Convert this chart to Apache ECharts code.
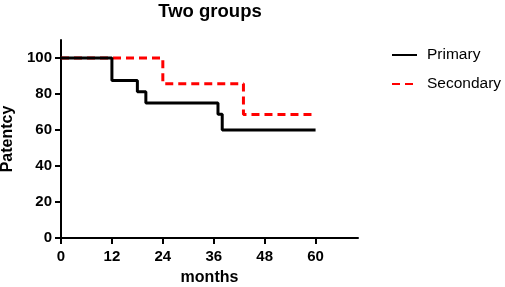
<!DOCTYPE html>
<html>
<head>
<meta charset="utf-8">
<script src="https://cdn.jsdelivr.net/npm/echarts@6/dist/echarts.min.js"></script>
<style>
  html, body { margin: 0; padding: 0; background: #fff; }
  #chart { width: 505px; height: 287px; }
</style>
</head>
<body>
<div id="chart"></div>
<script>
// Kaplan-Meier steps: [month, patency]
const primarySteps = [[0, 100], [12, 87.5], [18, 81.25], [20, 75], [37, 68.75], [38, 60], [60, 60]];
const secondarySteps = [[0, 100], [24, 85.7], [43, 68.6], [60, 68.6]];
const seriesNames = ["Primary", "Secondary"];
const xTicks = [0, 12, 24, 36, 48, 60];
const yTicks = [0, 20, 40, 60, 80, 100];

const FONT = "Liberation Sans, Arial, sans-serif";

const chart = echarts.init(document.getElementById("chart"));

const option = {
  animation: false,
  title: {
    text: "Two groups",
    left: 210,
    textAlign: "center",
    top: 2,
    padding: 0,
    textStyle: { fontFamily: FONT, fontSize: 18.5, fontWeight: "bold", color: "#000" },
  },
  legend: {
    data: seriesNames,
    orient: "vertical",
    left: 391,
    top: 47,
    padding: 0,
    itemWidth: 25,
    itemHeight: 14,
    itemGap: 13,
    itemStyle: { opacity: 0 },
    textStyle: { fontFamily: FONT, fontSize: 15.5, color: "#000", padding: [0, 0, 0, 5] },
  },
  grid: { left: 61, right: 147, top: 40, bottom: 49, containLabel: false, outerBoundsMode: "none" },
  xAxis: {
    type: "value",
    min: 0,
    max: 70,
    name: "months",
    nameLocation: "middle",
    nameGap: 32,
    nameTextStyle: { fontFamily: FONT, fontSize: 16, fontWeight: "bold", color: "#000" },
    splitLine: { show: false },
    axisLine: { lineStyle: { color: "#000", width: 2 } },
    axisTick: {
      length: 6,
      lineStyle: { color: "#000", width: 2 },
      customValues: xTicks,
    },
    axisLabel: {
      customValues: xTicks,
      fontFamily: FONT, fontSize: 15, fontWeight: "bold", color: "#000", margin: 11,
    },
  },
  yAxis: {
    type: "value",
    min: 0,
    max: 110,
    name: "Patentcy",
    nameLocation: "middle",
    nameGap: 43,
    nameTextStyle: { fontFamily: FONT, fontSize: 16, fontWeight: "bold", color: "#000" },
    splitLine: { show: false },
    axisLine: { show: true, lineStyle: { color: "#000", width: 2 } },
    axisTick: {
      show: true,
      length: 6,
      lineStyle: { color: "#000", width: 2 },
      customValues: yTicks,
    },
    axisLabel: {
      customValues: yTicks,
      fontFamily: FONT, fontSize: 15, fontWeight: "bold", color: "#000", margin: 9,
    },
  },
  series: [
    {
      name: "Secondary",
      type: "line",
      step: "end",
      data: secondarySteps,
      symbol: "none",
      z: 2,
      lineStyle: { color: "#ff0000", width: 3, type: [8, 5] },
      itemStyle: { color: "#ff0000" },
    },
    {
      name: "Primary",
      type: "line",
      step: "end",
      data: primarySteps,
      symbol: "none",
      z: 3,
      lineStyle: { color: "#000", width: 3 },
      itemStyle: { color: "#000" },
    },
  ],
};

chart.setOption(option);
window.addEventListener("resize", () => chart.resize());
</script>
</body>
</html>
